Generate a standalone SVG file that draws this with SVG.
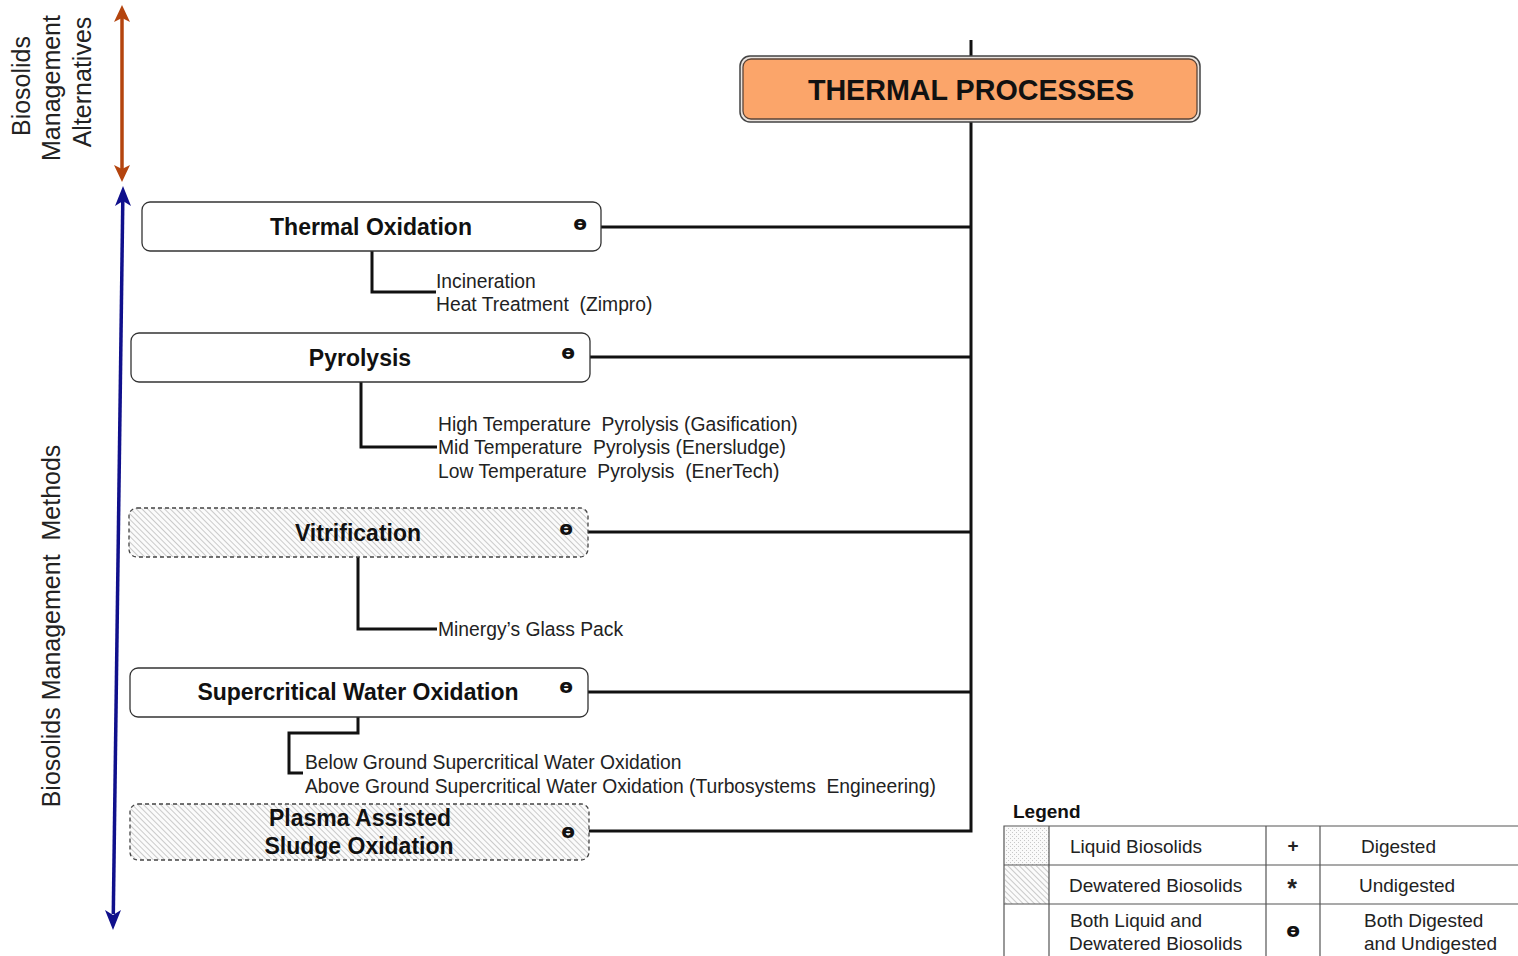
<svg xmlns="http://www.w3.org/2000/svg" width="1518" height="956" viewBox="0 0 1518 956">
<style>
.box{fill:#fff;stroke:#333;stroke-width:1.3}
.hbox{fill:url(#hatch);stroke:#444;stroke-width:1.3;stroke-dasharray:4 3}
.nt{font-family:"Liberation Sans",Arial,sans-serif;font-weight:bold;font-size:23px;fill:#111;text-anchor:middle}
.sym{font-family:"DejaVu Sans","Liberation Sans",sans-serif;font-weight:bold;font-size:20px;fill:#111;text-anchor:middle}
.st{font-family:"Liberation Sans",Arial,sans-serif;font-size:19.3px;fill:#222}
.side{font-family:"Liberation Sans",Arial,sans-serif;font-size:25px;fill:#222;text-anchor:middle}
.lg{font-family:"Liberation Sans",Arial,sans-serif;font-size:19px;fill:#222}
.conn{fill:none;stroke:#111;stroke-width:3}
.tl{stroke:#555;stroke-width:1.2;fill:none}
</style>
<defs>
<pattern id="hatch" patternUnits="userSpaceOnUse" width="4" height="4" patternTransform="rotate(-45)">
<rect width="4" height="4" fill="#fbfbfb"/>
<line x1="0" y1="0" x2="0" y2="4" stroke="#b0b0b0" stroke-width="1.3"/>
</pattern>
<pattern id="dots" patternUnits="userSpaceOnUse" width="4" height="4">
<rect width="4" height="4" fill="#fafafa"/>
<rect x="0" y="0" width="1" height="1" fill="#c8c8c8"/>
<rect x="2" y="2" width="1" height="1" fill="#c8c8c8"/>
</pattern>
</defs>

<g id="side-labels">
<text class="side" transform="translate(30,86) rotate(-90)">Biosolids</text>
<text class="side" transform="translate(60,88) rotate(-90)">Management</text>
<text class="side" transform="translate(91,82) rotate(-90)">Alternatives</text>
<text class="side" transform="translate(60,626) rotate(-90)" xml:space="preserve">Biosolids Management  Methods</text>
</g>

<g id="connectors">
<line x1="122" y1="18" x2="122" y2="170" stroke="#b4440e" stroke-width="3.5"/>
<polygon points="122,5 130,22 122,18 114,22" fill="#b4440e"/>
<polygon points="122,182 130,165 122,169 114,165" fill="#b4440e"/>
<line x1="122.8" y1="200" x2="113.3" y2="914" stroke="#10108c" stroke-width="3.5"/>
<polygon points="123,186 131,206 123,201 115,206" fill="#10108c"/>
<polygon points="113,930 105,910 113,915 121,910" fill="#10108c"/>
<line class="conn" x1="971" y1="40" x2="971" y2="56"/>
<polyline class="conn" points="971,122 971,831 589,831"/>
<line class="conn" x1="601" y1="227" x2="971" y2="227"/>
<line class="conn" x1="590" y1="357" x2="971" y2="357"/>
<line class="conn" x1="588" y1="532" x2="971" y2="532"/>
<line class="conn" x1="588" y1="692" x2="971" y2="692"/>
<polyline class="conn" points="372,251 372,292 436,292"/>
<polyline class="conn" points="361,382 361,447 437,447"/>
<polyline class="conn" points="358,557 358,629 437,629"/>
<polyline class="conn" points="358,717 358,733 289,733 289,773 303,773"/>
</g>

<g id="thermal-processes">
<rect x="740" y="56" width="460" height="66" rx="10" fill="#e9e3de" stroke="#444" stroke-width="1.5"/>
<rect x="743" y="59" width="454" height="60" rx="8" fill="#fba56a" stroke="#5a4438" stroke-width="1.3"/>
<text x="971" y="100" font-family="Liberation Sans,Arial,sans-serif" font-weight="bold" font-size="28.7" fill="#111" text-anchor="middle">THERMAL PROCESSES</text>
</g>

<g id="thermal-oxidation">
<rect class="box" x="142" y="202" width="459" height="49" rx="8"/>
<text class="nt" x="371" y="235">Thermal Oxidation</text>
<text class="sym" x="580" y="230">ɵ</text>
</g>
<g id="thermal-oxidation-items">
<text class="st" x="436" y="288">Incineration</text>
<text class="st" x="436" y="311" xml:space="preserve">Heat Treatment  (Zimpro)</text>
</g>

<g id="pyrolysis">
<rect class="box" x="131" y="333" width="459" height="49" rx="8"/>
<text class="nt" x="360" y="366">Pyrolysis</text>
<text class="sym" x="568" y="359">ɵ</text>
</g>
<g id="pyrolysis-items">
<text class="st" x="438" y="431" xml:space="preserve">High Temperature  Pyrolysis (Gasification)</text>
<text class="st" x="438" y="454" xml:space="preserve">Mid Temperature  Pyrolysis (Enersludge)</text>
<text class="st" x="438" y="478" xml:space="preserve">Low Temperature  Pyrolysis  (EnerTech)</text>
</g>

<g id="vitrification">
<rect class="hbox" x="129" y="508" width="459" height="49" rx="8"/>
<text class="nt" x="358" y="541">Vitrification</text>
<text class="sym" x="566" y="535">ɵ</text>
</g>
<g id="vitrification-items">
<text class="st" x="438" y="636">Minergy’s Glass Pack</text>
</g>

<g id="supercritical-water-oxidation">
<rect class="box" x="130" y="668" width="458" height="49" rx="8"/>
<text class="nt" x="358" y="700">Supercritical Water Oxidation</text>
<text class="sym" x="566" y="693">ɵ</text>
</g>
<g id="scwo-items">
<text class="st" x="305" y="769">Below Ground Supercritical Water Oxidation</text>
<text class="st" x="305" y="793" xml:space="preserve">Above Ground Supercritical Water Oxidation (Turbosystems  Engineering)</text>
</g>

<g id="plasma-assisted">
<rect class="hbox" x="130" y="804" width="459" height="56" rx="8"/>
<text class="nt" x="360" y="826">Plasma Assisted</text>
<text class="nt" x="359" y="854">Sludge Oxidation</text>
<text class="sym" x="568" y="838">ɵ</text>
</g>

<g id="legend">
<text x="1013" y="818" font-family="Liberation Sans,Arial,sans-serif" font-weight="bold" font-size="19" fill="#111">Legend</text>
<rect x="1005" y="827" width="44" height="38" fill="url(#dots)"/>
<rect x="1005" y="866" width="44" height="38" fill="url(#hatch)"/>
<path class="tl" d="M1004,956 V826 H1518 M1004,865 H1518 M1004,904 H1518 M1049,826 V956 M1266,826 V956 M1320,826 V956"/>
<text class="lg" x="1070" y="853">Liquid Biosolids</text>
<text class="lg" x="1069" y="892">Dewatered Biosolids</text>
<text class="lg" x="1070" y="927">Both Liquid and</text>
<text class="lg" x="1069" y="950">Dewatered Biosolids</text>
<text class="lg" x="1293" y="852" text-anchor="middle" font-weight="bold">+</text>
<text x="1292" y="897" text-anchor="middle" font-family="Liberation Sans,Arial,sans-serif" font-weight="bold" font-size="25" fill="#222">*</text>
<text class="sym" x="1293" y="937">ɵ</text>
<text class="lg" x="1361" y="853">Digested</text>
<text class="lg" x="1359" y="892">Undigested</text>
<text class="lg" x="1364" y="927">Both Digested</text>
<text class="lg" x="1364" y="950">and Undigested</text>
</g>
</svg>
